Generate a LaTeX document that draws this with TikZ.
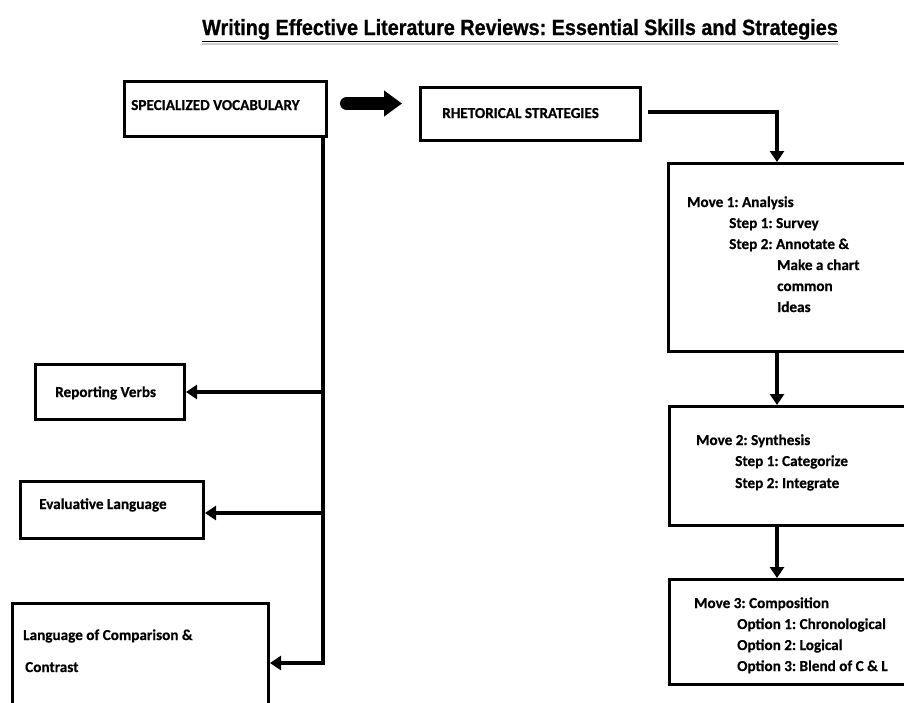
\documentclass[tikz,border=0pt]{standalone}
\usepackage{fontspec}
\setmainfont{Carlito}[BoldFeatures={FakeBold=0.5}]
\newfontfamily\titlefont[FakeStretch=0.9,FakeBold=0.8]{Liberation Sans Bold}
\usetikzlibrary{arrows.meta}
\frenchspacing
\begin{document}
\begin{tikzpicture}[x=1pt,y=-1pt,
  box/.style={draw, line width=3pt, rectangle, inner sep=0pt, anchor=north west},
  txt/.style={anchor=base west, inner sep=0pt, font=\bfseries\fontsize{15.2}{18}\selectfont},
  conn/.style={line width=3.5pt, -{Triangle[length=11pt,width=14pt]}},
  bigarrow/.style={line width=13pt, line cap=round, -{Triangle[length=18pt,width=25pt]}}]
\useasboundingbox (0,0) rectangle (904,702);
\fill[white] (0,0) rectangle (904,702);

% title
\node[anchor=base west, inner sep=0pt, font=\titlefont\fontsize{22}{25}\selectfont] (title) at (202,35)
  {Writing Effective Literature Reviews: Essential Skills and Strategies};
\draw[gray!40, line width=2.4pt] ([yshift=-9pt]title.base west) -- ([yshift=-9pt]title.base east);
\draw[black, line width=1.4pt] ([yshift=-6.5pt]title.base west) -- ([yshift=-6.5pt]title.base east);

% boxes
\node[box, minimum width=202pt, minimum height=55pt] (spec) at (123,80) {};
\node[box, minimum width=220pt, minimum height=53pt] (rhet) at (419,86) {};
\node[box, minimum width=250pt, minimum height=188pt] (m1) at (667,162) {};
\node[box, minimum width=250pt, minimum height=119pt] (m2) at (668,405) {};
\node[box, minimum width=250pt, minimum height=105pt] (m3) at (668,578) {};
\node[box, minimum width=149pt, minimum height=55pt] (rep) at (34,363) {};
\node[box, minimum width=183pt, minimum height=57pt] (eval) at (19,480) {};
\node[box, minimum width=256pt, minimum height=110pt] (comp) at (11,602) {};

% texts
\node[txt] (tspec) at (131,110) {SPECIALIZED VOCABULARY};
\node[txt] (trhet) at (442,118) {RHETORICAL STRATEGIES};

\node[txt] (t11) at (687,207) {Move 1: Analysis};
\node[txt] (t12) at (729,228) {Step 1: Survey};
\node[txt] (t13) at (729,249) {Step 2: Annotate \&};
\node[txt] (t14) at (777,270) {Make a chart};
\node[txt] (t15) at (777,291) {common};
\node[txt] (t16) at (777,312) {Ideas};

\node[txt] (t21) at (696,445) {Move 2: Synthesis};
\node[txt] (t22) at (735,466) {Step 1: Categorize};
\node[txt] (t23) at (735,488) {Step 2: Integrate};

\node[txt] (t31) at (694,608) {Move 3: Composition};
\node[txt] (t32) at (737,629) {Option 1: Chronological};
\node[txt] (t33) at (737,650) {Option 2: Logical};
\node[txt] (t34) at (737,671) {Option 3: Blend of C \& L};

\node[txt] (trep) at (55,397) {Reporting Verbs};
\node[txt] (teval) at (39,509) {Evaluative Language};
\node[txt] (tcomp1) at (23,640) {Language of Comparison \&};
\node[txt] (tcomp2) at (25,672) {Contrast};

% connectors
\draw[bigarrow, shorten >=17pt] ([xshift=18.5pt, yshift=5.5pt]spec.east) coordinate (s1) -- (s1 -| rhet.west);

\coordinate (mx) at (777,0);
\draw[conn, shorten <=6pt] ([yshift=2pt]rhet.east) -| (mx |- m1.north);
\draw[conn] (mx |- m1.south) -- (mx |- m2.north);
\draw[conn] (mx |- m2.south) -- (mx |- m3.north);

\coordinate (vx) at (323,0);
\coordinate (b2) at (323,513);
\coordinate (b3) at (323,663);
\draw[conn] (vx |- spec.south) -- (b3) -- (b3 -| comp.east);
\draw[conn] (vx |- rep.east) -- (rep.east);
\draw[conn] (b2) -- (b2 -| eval.east);
\end{tikzpicture}
\end{document}
